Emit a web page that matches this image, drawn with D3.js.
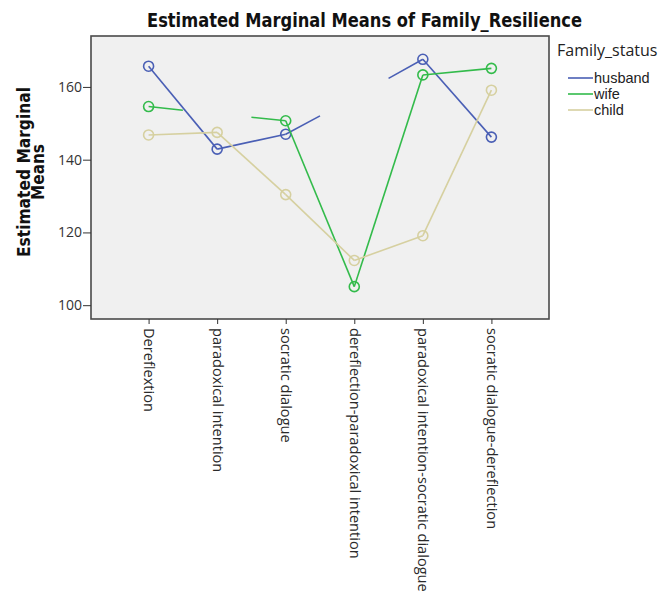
<!DOCTYPE html>
<html>
<head>
<meta charset="utf-8">
<script src="https://cdn.jsdelivr.net/npm/d3@7"></script>
<style>
  body { margin: 0; background: #fff; }
  svg { display: block; }
</style>
</head>
<body>
<svg id="chart"></svg>
<script>
const width = 660;
const height = 591;

const categories = [
  "Dereflextion",
  "paradoxical intention",
  "socratic dialogue",
  "dereflection-paradoxical intention",
  "paradoxical intention-socratic dialogue",
  "socratic dialogue-dereflection"
];

const statusNames = ["husband", "wife", "child"];
const statusColors = ["#4a5fb5", "#33bb4b", "#d6d0a0"];

const husbandMeans = [165.7, 142.9, 147.0, 157.1, 167.6, 146.2];
const wifeMeans = [154.6, 152.6, 150.7, 105.1, 163.3, 165.1];
const childMeans = [146.8, 147.5, 130.4, 112.3, 119.1, 159.1];

// cells drawn without a marker; the lines only reach halfway to them
const husbandHidden = [3];
const wifeHidden = [1];
const childHidden = [];

const yTicks = [100, 120, 140, 160];

const series = [
  { name: statusNames[0], color: statusColors[0], values: husbandMeans, hidden: husbandHidden },
  { name: statusNames[1], color: statusColors[1], values: wifeMeans, hidden: wifeHidden },
  { name: statusNames[2], color: statusColors[2], values: childMeans, hidden: childHidden }
];

const plot = { left: 91, right: 549, top: 36, bottom: 319 };

const svg = d3.select("#chart")
  .attr("width", width)
  .attr("height", height);

const x = d3.scalePoint()
  .domain(categories)
  .range([plot.left, plot.right])
  .padding(0.84);

const y = d3.scaleLinear()
  .domain([96.2, 174])
  .range([plot.bottom, plot.top]);

svg.append("rect")
  .attr("x", plot.left)
  .attr("y", plot.top)
  .attr("width", plot.right - plot.left)
  .attr("height", plot.bottom - plot.top)
  .attr("fill", "#f0f0f0")
  .attr("stroke", "#4a4a4a")
  .attr("stroke-width", 1.6);

// lines, broken around hidden cells
series.forEach(s => {
  const g = svg.append("g");
  for (let i = 0; i < categories.length - 1; i++) {
    const a = s.hidden.includes(i), b = s.hidden.includes(i + 1);
    let x1 = x(categories[i]), y1 = y(s.values[i]);
    let x2 = x(categories[i + 1]), y2 = y(s.values[i + 1]);
    const mx = (x1 + x2) / 2, my = (y1 + y2) / 2;
    if (a) { x1 = mx; y1 = my; }
    if (b) { x2 = mx; y2 = my; }
    g.append("line")
      .attr("x1", x1).attr("y1", y1)
      .attr("x2", x2).attr("y2", y2)
      .attr("stroke", s.color)
      .attr("stroke-width", 1.6);
  }
  g.selectAll("circle")
    .data(s.values.map((v, i) => ({ v, i })).filter(d => !s.hidden.includes(d.i)))
    .join("circle")
    .attr("cx", d => x(categories[d.i]))
    .attr("cy", d => y(d.v))
    .attr("r", 5)
    .attr("fill", "none")
    .attr("stroke", s.color)
    .attr("stroke-width", 1.6);
});

// y axis
const yAxis = svg.append("g")
  .attr("transform", `translate(${plot.left},0)`)
  .call(d3.axisLeft(y).tickValues(yTicks).tickSize(8).tickPadding(1));
yAxis.select(".domain").remove();
yAxis.selectAll("line").attr("stroke", "#333");
yAxis.selectAll("text")
  .attr("fill", "#333")
  .style("font", "14px 'Open Sans', sans-serif");

// x axis
const xAxis = svg.append("g")
  .attr("transform", `translate(0,${plot.bottom})`)
  .call(d3.axisBottom(x).tickSize(5).tickPadding(0));
xAxis.select(".domain").remove();
xAxis.selectAll("line").attr("stroke", "#333");
xAxis.selectAll("text")
  .attr("fill", "#2a2a2a")
  .style("font", "14.6px 'Open Sans', sans-serif")
  .attr("text-anchor", "start")
  .attr("transform", "rotate(90)")
  .attr("x", 9)
  .attr("y", 0)
  .attr("dy", "0.35em");

// title
svg.append("text")
  .attr("x", 364.5)
  .attr("y", 27)
  .attr("text-anchor", "middle")
  .attr("textLength", 435)
  .attr("lengthAdjust", "spacingAndGlyphs")
  .style("font", "bold 20px 'DejaVu Sans Condensed', sans-serif")
  .attr("fill", "#111")
  .text("Estimated Marginal Means of Family_Resilience");

// y label
const yLabel = svg.append("text")
  .attr("transform", "translate(30,172) rotate(-90)")
  .attr("text-anchor", "middle")
  .style("font", "bold 17px 'DejaVu Sans Condensed', sans-serif")
  .attr("fill", "#111");
yLabel.append("tspan").attr("x", 0).attr("y", 0)
  .attr("textLength", 170).attr("lengthAdjust", "spacingAndGlyphs")
  .text("Estimated Marginal");
yLabel.append("tspan").attr("x", 0).attr("y", 14)
  .text("Means");

// legend
const legend = svg.append("g").attr("transform", "translate(557,0)");
legend.append("text")
  .attr("x", 0)
  .attr("y", 56)
  .style("font", "16px 'Open Sans', sans-serif")
  .attr("fill", "#222")
  .text("Family_status");

const item = legend.selectAll("g.item")
  .data(series)
  .join("g")
  .attr("class", "item")
  .attr("transform", (d, i) => `translate(0,${78 + i * 16})`);
item.append("line")
  .attr("x1", 11).attr("x2", 36)
  .attr("stroke", d => d.color)
  .attr("stroke-width", 1.6);
item.append("text")
  .attr("x", 37)
  .attr("dy", "0.35em")
  .style("font", "14.5px 'Liberation Sans', sans-serif")
  .attr("fill", "#222")
  .text(d => d.name);
</script>
</body>
</html>
